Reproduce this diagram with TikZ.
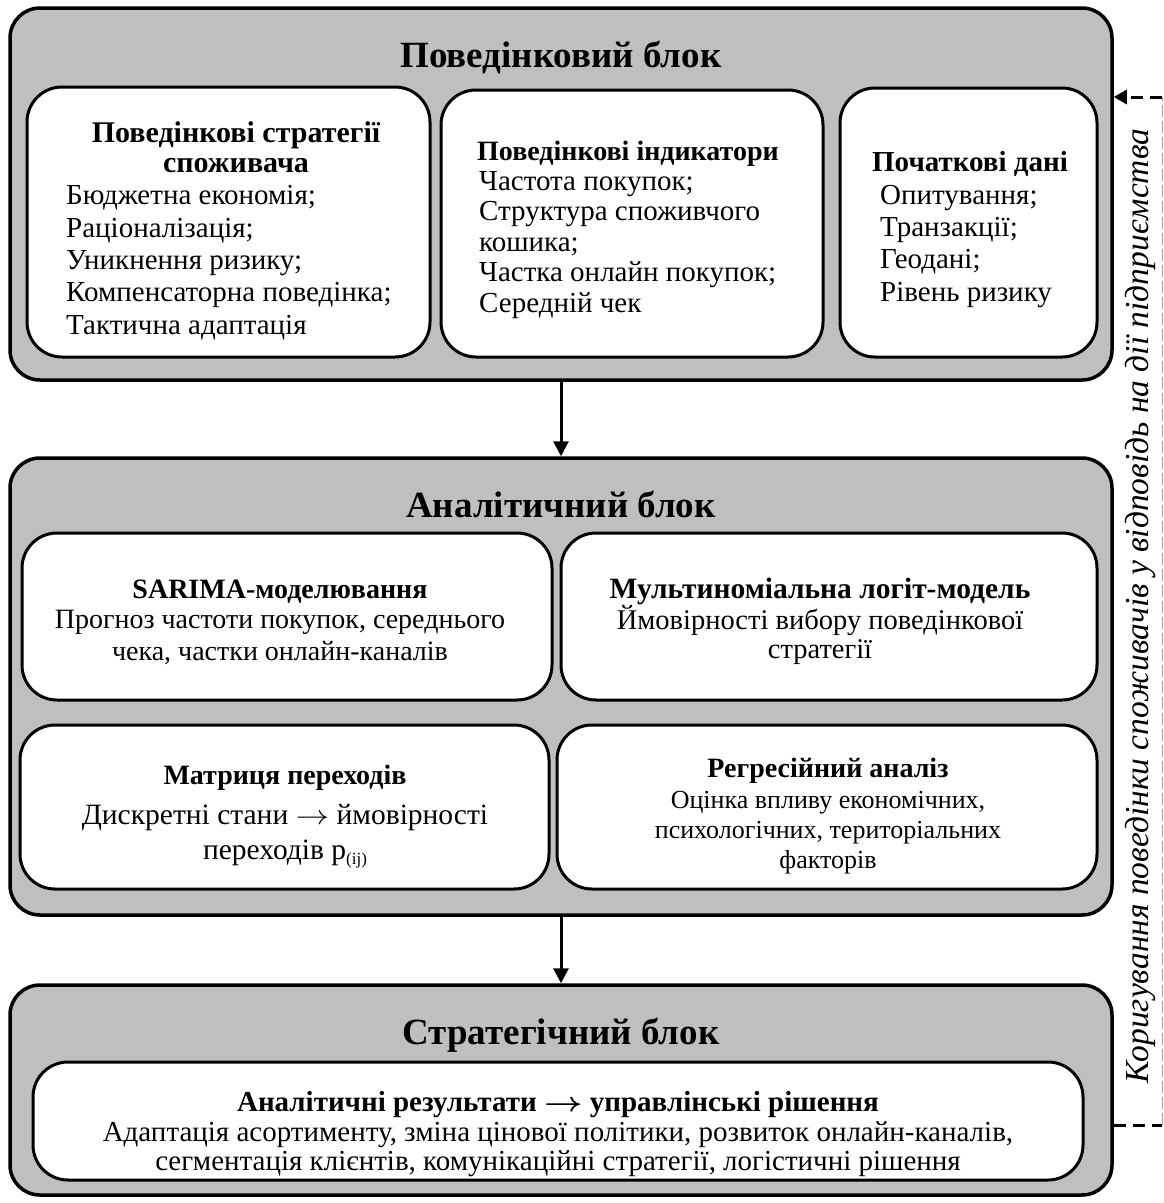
\documentclass[tikz,border=0pt]{standalone}
\usepackage{fontspec}
\usepackage{graphicx}
\setmainfont{Liberation Serif}
\usetikzlibrary{arrows.meta}
\definecolor{blockgrey}{RGB}{191,191,191}
\newcommand{\ra}{\scalebox{1.35}[1.1]{\ensuremath{\rightarrow}}}
\tikzset{
  outerbox/.style={draw, line width=3.5pt, fill=blockgrey, rounded corners=30pt, inner sep=0pt},
  innerbox/.style={draw, line width=3pt, fill=white, rounded corners=35pt, inner sep=0pt},
  blocktitle/.style={font=\fontsize{37}{40}\selectfont\bfseries, inner sep=0pt, anchor=base},
  boxtitle/.style={font=\fontsize{28}{30}\selectfont\bfseries, inner sep=0pt, align=center, anchor=base},
  listtext/.style={font=\fontsize{29}{32.3}\selectfont, inner sep=0pt, align=left, anchor=base west},
  ctext/.style={font=\fontsize{28}{32}\selectfont, inner sep=0pt, align=center, anchor=base},
  flow/.style={line width=3pt, -{Triangle[length=15pt,width=15pt]}},
  feedback/.style={line width=3pt, dash pattern=on 12pt off 7pt},
  sideline/.style={line width=1pt, draw=gray!70, dash pattern=on 12pt off 4pt},
}
\begin{document}
\begin{tikzpicture}[x=1pt,y=-1pt]
\useasboundingbox (0,0) rectangle (1164,1203);
% outer blocks
\node[outerbox, minimum width=1102pt, minimum height=372pt] (b1) at (561,194) {};
\node[outerbox, minimum width=1102pt, minimum height=457pt] (b2) at (561,686.5) {};
\node[outerbox, minimum width=1102pt, minimum height=210pt] (b3) at (561,1090) {};
\node[blocktitle] (t1) at (561,67) {Поведінковий блок};
\node[blocktitle] (t2) at (561,517) {Аналітичний блок};
\node[blocktitle] (t3) at (561,1044) {Стратегічний блок};
% behavioural block
\node[innerbox, minimum width=403pt, minimum height=270pt] (ba) at (228.5,222) {};
\node[innerbox, minimum width=382pt, minimum height=267pt] (bb) at (632,223.5) {};
\node[innerbox, minimum width=257pt, minimum height=269pt] (bc) at (968.5,222.5) {};
\node[boxtitle, font=\fontsize{30}{30}\selectfont\bfseries] (tA) at (236,172) {Поведінкові стратегії\\споживача};
\node[listtext] (lA) at (66,334) {Бюджетна економія;\\Раціоналізація;\\Уникнення ризику;\\Компенсаторна поведінка;\\Тактична адаптація};
\node[boxtitle] (tB) at (628,160) {Поведінкові індикатори};
\node[listtext, font=\fontsize{29}{30.5}\selectfont] (lB) at (479,312) {Частота покупок;\\Структура споживчого\\кошика;\\Частка онлайн покупок;\\Середній чек};
\node[boxtitle, font=\fontsize{29}{30}\selectfont\bfseries] (tC) at (970,171) {Початкові дані};
\node[listtext] (lC) at (880,301) {Опитування;\\Транзакції;\\Геодані;\\Рівень ризику};
% analytical block
\node[innerbox, minimum width=530pt, minimum height=167pt] (sa) at (287,616.5) {};
\node[innerbox, minimum width=536pt, minimum height=167pt] (ml) at (829,616.5) {};
\node[innerbox, minimum width=529pt, minimum height=164pt] (mt) at (284.5,807) {};
\node[innerbox, minimum width=540pt, minimum height=164pt] (rg) at (827,807) {};
\node[boxtitle] (tsa) at (280,598) {SARIMA-моделювання};
\node[ctext] (xsa) at (280,660) {Прогноз частоти покупок, середнього\\чека, частки онлайн-каналів};
\node[boxtitle, font=\fontsize{29.5}{30}\selectfont\bfseries] (tml) at (820,598) {Мультиноміальна логіт-модель};
\node[ctext, font=\fontsize{28.5}{29}\selectfont] (xml) at (820,658) {Ймовірності вибору поведінкової\\стратегії};
\node[boxtitle] (tmt) at (285,784) {Матриця переходів};
\node[ctext, font=\fontsize{29.5}{35}\selectfont] (xmt) at (285,859) {Дискретні стани \ra{} ймовірності\\переходів p\raisebox{-5pt}{\fontsize{17}{17}\selectfont(ij)}};
\node[boxtitle] (trg) at (828,777) {Регресійний аналіз};
\node[ctext, font=\fontsize{26}{30}\selectfont] (xrg) at (828,868) {Оцінка впливу економічних,\\психологічних, територіальних\\факторів};
% strategic block
\node[innerbox, minimum width=1050pt, minimum height=118pt] (st) at (558,1121) {};
\node[boxtitle, font=\fontsize{29}{30}\selectfont\bfseries] (tst) at (558,1111) {Аналітичні результати {\boldmath\ra} управлінські рішення};
\node[ctext, font=\fontsize{29}{29}\selectfont] (xst) at (558,1170) {Адаптація асортименту, зміна цінової політики, розвиток онлайн-каналів,\\сегментація клієнтів, комунікаційні стратегії, логістичні рішення};
% flow arrows
\draw[flow] (b1.south) -- (b2.north);
\draw[flow] (b2.south) -- (b3.north);
% feedback loop
\coordinate (fbtop) at (1162,97);
\coordinate (fbbot) at (1162,1125);
\draw[sideline] (fbbot) -- (fbtop);
\draw[feedback] (b3.east |- fbbot) -- (fbbot);
\draw[feedback, -{Triangle[length=13pt,width=14pt]}] (fbtop) -- (b1.east |- fbtop);
\node[rotate=90, font=\fontsize{33.5}{34}\selectfont\itshape, inner sep=0pt] (fbtext) at (1140,606) {Коригування поведінки споживачів у відповідь на дії підприємства};
\end{tikzpicture}
\end{document}
